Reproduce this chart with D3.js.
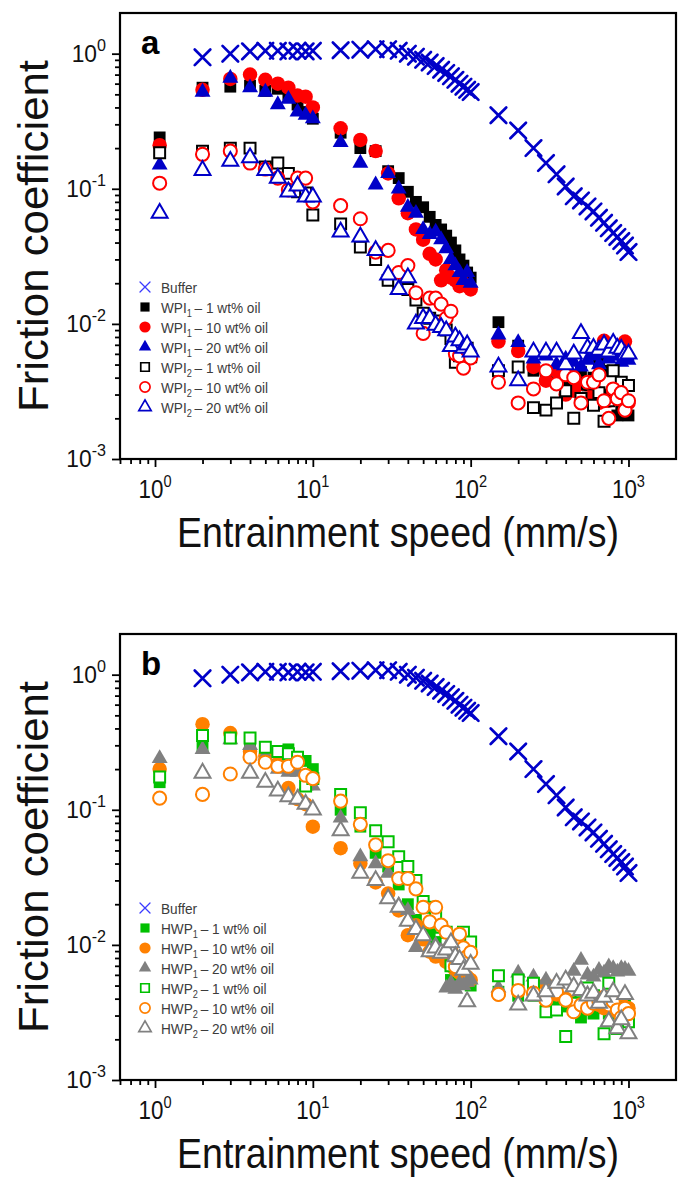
<!DOCTYPE html>
<html>
<head>
<meta charset="utf-8">
<script src="https://cdnjs.cloudflare.com/ajax/libs/d3/7.8.5/d3.min.js"></script>
<style>
body { margin: 0; background: #fff; }
svg text { font-family: "Liberation Sans", Arial, sans-serif; }
</style>
</head>
<body>
<script>
(function() {
    'use strict';

    // speeds (mm/s) shared by every series
    var speed = [
        1.07, 2, 3, 4, 5, 6, 7, 8, 9, 10,
        15, 20, 25, 30, 35, 40, 45, 50, 55, 60, 65, 70, 75, 80, 85, 90, 95, 100,
        150, 200, 250, 300, 350, 400, 450, 500, 550, 600, 650, 700, 750, 800, 850, 900, 950, 1000
    ];

    var buffer = [
        null, 0.94, 1.0, 1.04, 1.05, 1.05, 1.04, 1.05, 1.04, 1.05,
        1.06, 1.07, 1.08, 1.08, 1.05, 1.0, 0.95, 0.9, 0.86, 0.81, 0.76, 0.72, 0.68, 0.64, 0.6, 0.57, 0.54, 0.52,
        0.35, 0.27, 0.2, 0.155, 0.128, 0.104, 0.088, 0.082, 0.074, 0.068, 0.061, 0.056, 0.051, 0.047, 0.044, 0.041, 0.038, 0.034
    ];

    // panel a
    var wpi1_1 = [
        0.24, 0.56, 0.57, 0.58, 0.53, 0.55, 0.5, 0.42, 0.37, 0.33,
        0.26, 0.2, 0.19, 0.135, 0.12, 0.095, 0.08, 0.073, 0.062, 0.054, 0.05, 0.045, 0.04, 0.035, 0.03, 0.027, 0.024, 0.022,
        0.0103, 0.0069, 0.0045, 0.0039, 0.0037, 0.0038, 0.0041, 0.0044, 0.0035, 0.004, 0.0052, 0.0045, 0.003, 0.0028, 0.0021, 0.0024, 0.0022, 0.0021
    ];
    var wpi1_10 = [
        0.21, 0.54, 0.65, 0.7, 0.64, 0.6, 0.56, 0.49, 0.48, 0.4,
        0.28, 0.23, 0.19, 0.13, 0.085, 0.066, 0.05, 0.042, 0.033, 0.03, 0.021, 0.025, 0.022, 0.021, 0.019, 0.02, 0.019, 0.018,
        0.0074, 0.0063, 0.0048, 0.0038, 0.0045, 0.003, 0.0032, 0.0036, 0.0028, 0.0034, 0.0026, 0.0075, 0.0027, 0.0032, 0.0033, 0.0028, 0.0074, 0.0026
    ];
    var wpi1_20 = [
        0.15, 0.52, 0.66, 0.56, 0.52, 0.42, 0.46, 0.37, 0.35, 0.33,
        0.22, 0.155, 0.107, 0.13, 0.1, 0.073, 0.066, 0.05, 0.046, 0.048, 0.042, 0.036, 0.03, 0.027, 0.024, 0.021, 0.024, 0.02,
        0.0083, 0.0073, 0.0055, 0.0058, 0.005, 0.0055, 0.0052, 0.0048, 0.0054, 0.0058, 0.005, 0.006, 0.0055, 0.0062, 0.0058, 0.0052, 0.0056, 0.0054
    ];
    var wpi2_1 = [
        0.185, 0.19, 0.2, 0.2, 0.145, 0.155, 0.13, 0.095, 0.093, 0.064,
        0.055, 0.037, 0.03, 0.021, 0.02, 0.018, 0.015, 0.012, 0.011, 0.0105, 0.0098, 0.009, 0.0078, 0.0052, 0.0058, 0.006, 0.0066, 0.0057,
        0.0045, 0.0048, 0.0024, 0.0023, 0.0026, 0.0032, 0.002, 0.0028, 0.0036, 0.0025, 0.0031, 0.0019, 0.0027, 0.0045, 0.0029, 0.0037, 0.0024, 0.0035
    ];
    var wpi2_10 = [
        0.11, 0.18, 0.19, 0.155, 0.14, 0.12, 0.098, 0.12, 0.12, 0.08,
        0.075, 0.06, 0.034, 0.035, 0.024, 0.027, 0.017, 0.0085, 0.0155, 0.0155, 0.014, 0.011, 0.0124, 0.006, 0.0058, 0.0047, 0.0064, 0.0056,
        0.0037, 0.0026, 0.0033, 0.0045, 0.0036, 0.0042, 0.004, 0.0026, 0.0037, 0.0037, 0.0042, 0.0027, 0.002, 0.0033, 0.0028, 0.0031, 0.0023, 0.0027
    ];
    var wpi2_20 = [
        0.066, 0.137, 0.16, 0.17, 0.137, 0.12, 0.095, 0.105, 0.087, 0.087,
        0.048, 0.044, 0.035, 0.023, 0.018, 0.022, 0.01, 0.011, 0.011, 0.0098, 0.0094, 0.0089, 0.0068, 0.008, 0.0075, 0.0066, 0.007, 0.0062,
        0.0048, 0.0038, 0.0062, 0.0062, 0.0062, 0.005, 0.006, 0.0085, 0.0066, 0.0066, 0.0064, 0.007, 0.0062, 0.0072, 0.0066, 0.0065, 0.0059, 0.006
    ];

    // panel b
    var hwp1_1 = [
        0.16, 0.29, 0.34, 0.29, 0.27, 0.27, 0.28, 0.24, 0.23, 0.2,
        0.1, 0.075, 0.048, 0.038, 0.028, 0.02, 0.0153, 0.0135, 0.012, 0.0105, 0.0092, 0.0077, 0.0055, 0.0062, 0.0058, 0.0053, 0.0056, 0.005,
        0.0045, 0.0042, 0.0042, 0.0035, 0.0038, 0.0035, 0.0036, 0.0029, 0.0033, 0.0031, 0.0034, 0.0038, 0.0031, 0.0034, 0.0032, 0.0035, 0.0038, 0.0033
    ];
    var hwp1_10 = [
        0.2, 0.43, 0.37, 0.27, 0.25, 0.22, 0.145, 0.12, 0.11, 0.075,
        0.052, 0.04, 0.029, 0.024, 0.018, 0.0118, 0.014, 0.011, 0.0089, 0.0082, 0.009, 0.0075, 0.007, 0.0065, 0.0062, 0.006, 0.0058, 0.0055,
        0.0043, 0.0045, 0.0044, 0.0051, 0.0043, 0.004, 0.0037, 0.0041, 0.0035, 0.0039, 0.0036, 0.0034, 0.004, 0.0035, 0.0032, 0.0037, 0.0034, 0.0034
    ];
    var hwp1_20 = [
        0.24, 0.28, 0.33, 0.3, 0.25, 0.2, 0.19, 0.19, 0.15, 0.15,
        0.087, 0.045, 0.04, 0.034, 0.0197, 0.018, 0.0096, 0.0117, 0.0093, 0.01, 0.0089, 0.0048, 0.0052, 0.0047, 0.0052, 0.005, 0.0053, 0.0055,
        0.0048, 0.0062, 0.0058, 0.0055, 0.0052, 0.0055, 0.0064, 0.0077, 0.006, 0.0058, 0.0065, 0.0062, 0.0069, 0.0067, 0.0063, 0.0067, 0.0066, 0.0064
    ];
    var hwp2_1 = [
        0.175, 0.355, 0.34, 0.34, 0.29, 0.27, 0.26, 0.245, 0.15, 0.17,
        0.13, 0.095, 0.07, 0.058, 0.045, 0.038, 0.03, 0.021, 0.019, 0.0164, 0.0135, 0.0124, 0.007, 0.011, 0.01, 0.0124, 0.0082, 0.0105,
        0.0059, 0.0055, 0.0052, 0.0032, 0.0033, 0.0021, 0.0037, 0.0045, 0.0048, 0.0042, 0.0038, 0.0022, 0.0052, 0.004, 0.0024, 0.0034, 0.0029, 0.0027
    ];
    var hwp2_10 = [
        0.122, 0.13, 0.184, 0.245, 0.225, 0.21, 0.21, 0.225, 0.18, 0.17,
        0.116, 0.078, 0.055, 0.042, 0.031, 0.031, 0.026, 0.019, 0.0148, 0.019, 0.014, 0.0124, 0.0098, 0.0069, 0.012, 0.0095, 0.0082, 0.0088,
        0.0043, 0.0046, 0.0044, 0.0039, 0.0045, 0.0039, 0.0032, 0.0036, 0.0034, 0.0037, 0.0038, 0.0041, 0.0036, 0.0038, 0.0033, 0.0029, 0.0034, 0.0031
    ];
    var hwp2_20 = [
        null, 0.187, null, 0.187, 0.16, 0.138, 0.125, 0.12, 0.11, 0.1,
        0.07, 0.034, 0.03, 0.022, 0.019, 0.015, 0.013, 0.0117, 0.0089, 0.0095, 0.0087, 0.0092, 0.0104, 0.0082, 0.0078, 0.0065, 0.0038, 0.0072,
        null, 0.0036, 0.0042, 0.0045, 0.0052, 0.0055, 0.0049, 0.0046, 0.0042, 0.0044, 0.0037, 0.0041, 0.0027, 0.0045, 0.0024, 0.0028, 0.0043, 0.0022
    ];

    var xMajor = [1, 10, 100, 1000];
    var xMajorExp = ["0", "1", "2", "3"];
    var yMajor = [1, 0.1, 0.01, 0.001];
    var yMajorExp = ["0", "-1", "-2", "-3"];

    var legendA = [
        ["Buffer", "", ""],
        ["WPI", "1", "\u2009\u2013 1 wt% oil"],
        ["WPI", "1", "\u2009\u2013 10 wt% oil"],
        ["WPI", "1", "\u2009\u2013 20 wt% oil"],
        ["WPI", "2", "\u2009\u2013 1 wt% oil"],
        ["WPI", "2", "\u2009\u2013 10 wt% oil"],
        ["WPI", "2", "\u2009\u2013 20 wt% oil"]
    ];
    var legendB = [
        ["Buffer", "", ""],
        ["HWP", "1", "\u2009\u2013 1 wt% oil"],
        ["HWP", "1", "\u2009\u2013 10 wt% oil"],
        ["HWP", "1", "\u2009\u2013 20 wt% oil"],
        ["HWP", "2", "\u2009\u2013 1 wt% oil"],
        ["HWP", "2", "\u2009\u2013 10 wt% oil"],
        ["HWP", "2", "\u2009\u2013 20 wt% oil"]
    ];

    var seriesA = [
        {v: buffer, shape: "x", color: "#0000c8", open: false},
        {v: wpi1_1, shape: "square", color: "#000000", open: false},
        {v: wpi1_10, shape: "circle", color: "#ff0000", open: false},
        {v: wpi1_20, shape: "triangle", color: "#0000c8", open: false},
        {v: wpi2_1, shape: "square", color: "#000000", open: true},
        {v: wpi2_10, shape: "circle", color: "#ff0000", open: true},
        {v: wpi2_20, shape: "triangle", color: "#0000c8", open: true}
    ];
    var seriesB = [
        {v: buffer, shape: "x", color: "#0000c8", open: false},
        {v: hwp1_1, shape: "square", color: "#00c000", open: false},
        {v: hwp1_10, shape: "circle", color: "#ff8000", open: false},
        {v: hwp1_20, shape: "triangle", color: "#808080", open: false},
        {v: hwp2_1, shape: "square", color: "#00c000", open: true},
        {v: hwp2_10, shape: "circle", color: "#ff8000", open: true},
        {v: hwp2_20, shape: "triangle", color: "#808080", open: true}
    ];

    var W = 678, H = 1178;
    var left = 120, right = 676, plotH = 446;
    var squeeze = 0.86;

    var svg = d3.select("body").append("svg")
        .attr("width", W)
        .attr("height", H)
        .style("display", "block");

    function markerPath(shape, s) {
        if (shape === "x") {
            return "M" + (-s) + "," + (-s) + "L" + s + "," + s + "M" + (-s) + "," + s + "L" + s + "," + (-s);
        }
        var t = {square: d3.symbolSquare, circle: d3.symbolCircle, triangle: d3.symbolTriangle}[shape];
        return d3.symbol().type(t).size(s)();
    }

    function markerSize(shape, open, legend) {
        var k = legend ? 0.6 : 1;
        if (shape === "x") return legend ? 5 : 7.8;
        if (shape === "square") return (open ? 120 : 140) * k;
        if (shape === "circle") return (open ? 135 : 165) * k;
        return (open ? 110 : 110) * k;
    }

    function styleMarker(sel, s, legend) {
        if (s.shape === "x") {
            sel.attr("fill", "none")
               .attr("stroke", legend ? "#3a3aff" : s.color)
               .attr("stroke-width", legend ? 1.3 : 2.7)
               .attr("stroke-linecap", "round");
        } else if (s.open) {
            sel.attr("fill", "#fff")
               .attr("stroke", s.color)
               .attr("stroke-width", legend ? 1.7 : 2);
        } else {
            sel.attr("fill", s.color).attr("stroke", "none");
        }
    }

    function drawPanel(top, letter, series, legendRows) {
        var g = svg.append("g");
        var x = d3.scaleLog().domain([0.6, 2000]).range([left, right]);
        var y = d3.scaleLog().domain([0.001, 2]).range([top + plotH, top]);

        // minor ticks
        var xMinor = [];
        [0.1, 1, 10, 100, 1000].forEach(function(p) {
            for (var k = 2; k <= 9; k++) {
                var v = p * k;
                if (v > 0.6 && v < 2000) xMinor.push(v);
            }
        });
        var yMinor = [];
        [0.001, 0.01, 0.1, 1].forEach(function(p) {
            for (var k = 2; k <= 9; k++) {
                var v = p * k;
                if (v < 2) yMinor.push(v);
            }
        });

        var xAxisMinor = g.append("g")
            .attr("transform", "translate(0," + (top + plotH) + ")")
            .call(d3.axisBottom(x).tickValues(xMinor).tickSize(5).tickFormat(""));
        var xAxisMajor = g.append("g")
            .attr("transform", "translate(0," + (top + plotH) + ")")
            .call(d3.axisBottom(x).tickValues(xMajor).tickSize(8).tickFormat(""));
        var yAxisMinor = g.append("g")
            .attr("transform", "translate(" + left + ",0)")
            .call(d3.axisLeft(y).tickValues(yMinor).tickSize(5).tickFormat(""));
        var yAxisMajor = g.append("g")
            .attr("transform", "translate(" + left + ",0)")
            .call(d3.axisLeft(y).tickValues(yMajor).tickSize(8).tickFormat(""));
        [xAxisMinor, xAxisMajor, yAxisMinor, yAxisMajor].forEach(function(a) {
            a.select(".domain").remove();
            a.selectAll("line").attr("stroke", "#000").attr("stroke-width", 1.8);
        });

        g.append("rect")
            .attr("x", left)
            .attr("y", top)
            .attr("width", right - left)
            .attr("height", plotH)
            .attr("fill", "none")
            .attr("stroke", "#000")
            .attr("stroke-width", 2.2);

        // tick labels with superscripts
        xMajor.forEach(function(v, i) {
            var t = g.append("g")
                .attr("transform", "translate(" + x(v) + "," + (top + plotH + 39) + ") scale(" + squeeze + ",1)")
                .append("text")
                .attr("text-anchor", "middle")
                .attr("font-size", 26)
                .attr("fill", "#111");
            t.append("tspan").text("10");
            t.append("tspan").attr("dy", -11).attr("font-size", 17).text(xMajorExp[i]);
        });
        yMajor.forEach(function(v, i) {
            var t = g.append("g")
                .attr("transform", "translate(" + (left - 14) + "," + (y(v) + 8) + ") scale(0.95,1)")
                .append("text")
                .attr("text-anchor", "end")
                .attr("font-size", 24)
                .attr("fill", "#111");
            t.append("tspan").text("10");
            t.append("tspan").attr("dy", -11).attr("font-size", 17).text(yMajorExp[i]);
        });

        // axis titles
        g.append("text")
            .attr("x", (left + right) / 2)
            .attr("y", top + plotH + 88)
            .attr("text-anchor", "middle")
            .attr("font-size", 42)
            .attr("textLength", 442)
            .attr("lengthAdjust", "spacingAndGlyphs")
            .attr("fill", "#111")
            .text("Entrainment speed (mm/s)");
        g.append("g")
            .attr("transform", "translate(48," + (top + plotH / 2) + ") rotate(-90)")
            .append("text")
            .attr("text-anchor", "middle")
            .attr("font-size", 42)
            .attr("textLength", 352)
            .attr("lengthAdjust", "spacingAndGlyphs")
            .attr("fill", "#111")
            .text("Friction coefficient");

        g.append("text")
            .attr("x", 141)
            .attr("y", top + 41)
            .attr("font-family", "Liberation Serif, Times New Roman, serif")
            .attr("font-weight", "bold")
            .attr("font-size", 33)
            .text(letter);

        // data
        var plot = g.append("g");
        series.forEach(function(s) {
            var pts = speed.map(function(sp, i) { return [sp, s.v[i]]; })
                .filter(function(d) { return d[1] !== null; });
            var sel = plot.append("g").selectAll("path")
                .data(pts)
                .enter()
                .append("path")
                .attr("transform", function(d) {
                    return "translate(" + x(d[0]) + "," + y(d[1]) + ")";
                })
                .attr("d", markerPath(s.shape, markerSize(s.shape, s.open, false)));
            styleMarker(sel, s, false);
        });

        // legend
        var lg = g.append("g");
        legendRows.forEach(function(row, i) {
            var s = series[i];
            var cy = top + 274 + i * 20;
            var m = lg.append("path")
                .attr("transform", "translate(145," + cy + ")")
                .attr("d", markerPath(s.shape, markerSize(s.shape, s.open, true)));
            styleMarker(m, s, true);
            var t = lg.append("g")
                .attr("transform", "translate(161," + (cy + 5.5) + ") scale(0.88,1)")
                .append("text")
                .attr("font-size", 15.5)
                .attr("fill", "#3c3c3c");
            t.append("tspan").text(row[0]);
            if (row[1]) {
                t.append("tspan").attr("dy", 4).attr("font-size", 10.5).text(row[1]);
                t.append("tspan").attr("dy", -4).text(row[2]);
            }
        });
    }

    drawPanel(13, "a", seriesA, legendA);
    drawPanel(634, "b", seriesB, legendB);
}());
</script>
</body>
</html>
